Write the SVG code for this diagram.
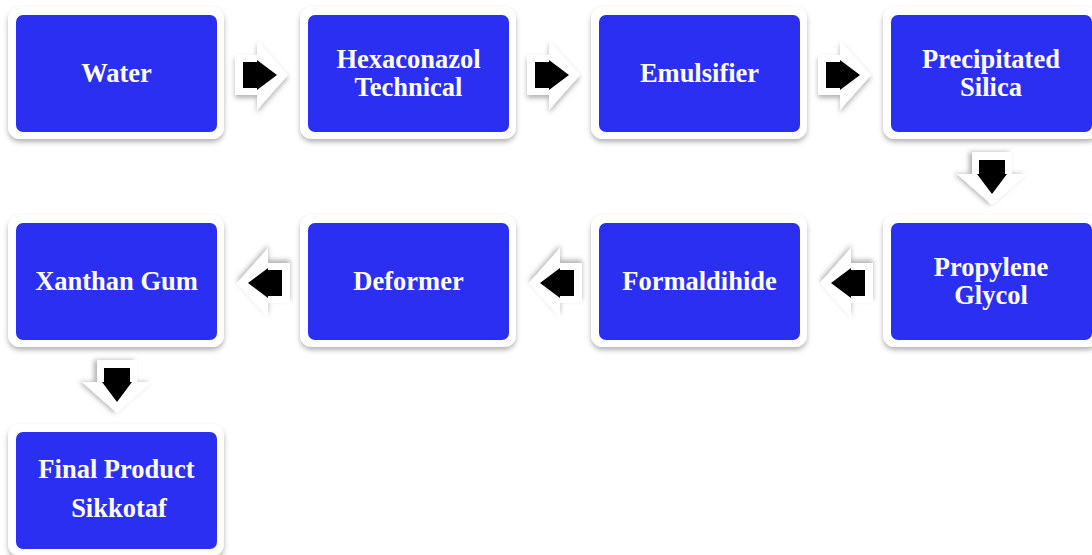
<svg xmlns="http://www.w3.org/2000/svg" width="1092" height="555" viewBox="0 0 1092 555">
<defs>
<style>
.frame{fill:#ffffff;filter:url(#sh)}
.box{fill:#2A2FF2}
.lbl{font-weight:700;font-size:26.5px;fill:#ffffff;text-anchor:middle}
.aw{fill:#ffffff;filter:url(#sh)}
.ab{fill:#000000}
</style>
<filter id="sh" x="-20%" y="-20%" width="140%" height="150%">
<feDropShadow dx="0" dy="3" stdDeviation="2.5" flood-color="#000" flood-opacity="0.3"/>
</filter>
<g id="arR">
<path class="aw" d="M0,-20 H22 V-35 L53,0 L22,35 V20 H0 Z"/>
<path class="ab" d="M8,-13 H22 V-15 L42,0 L22,15 V13 H8 Z"/>
</g>
</defs>
<rect width="1092" height="555" fill="#ffffff"/>
<g id="connectors">
<use href="#arR" transform="translate(235,75)"/>
<use href="#arR" transform="translate(527,75)"/>
<use href="#arR" transform="translate(818,75)"/>
<use href="#arR" transform="translate(992,152) rotate(90)"/>
<use href="#arR" transform="translate(873,283) rotate(180)"/>
<use href="#arR" transform="translate(582,283) rotate(180)"/>
<use href="#arR" transform="translate(290,283) rotate(180)"/>
<use href="#arR" transform="translate(117,360) rotate(90)"/>
</g>
<g font-family="Liberation Serif, serif">
<g id="n1"><rect class="frame" x="8" y="7" width="216" height="132" rx="12"/><rect class="box" x="16" y="15" width="201" height="117" rx="7"/><text class="lbl" x="116.5" y="82">Water</text></g>
<g id="n2"><rect class="frame" x="300" y="7" width="216" height="132" rx="12"/><rect class="box" x="308" y="15" width="201" height="117" rx="7"/><text class="lbl" x="408.5" y="68">Hexaconazol</text><text class="lbl" x="408.5" y="96">Technical</text></g>
<g id="n3"><rect class="frame" x="591" y="7" width="216" height="132" rx="12"/><rect class="box" x="599" y="15" width="201" height="117" rx="7"/><text class="lbl" x="699.5" y="82">Emulsifier</text></g>
<g id="n4"><rect class="frame" x="883" y="7" width="216" height="132" rx="12"/><rect class="box" x="891" y="15" width="201" height="117" rx="7"/><text class="lbl" x="991" y="68">Precipitated</text><text class="lbl" x="991" y="96">Silica</text></g>
<g id="n5"><rect class="frame" x="883" y="215" width="216" height="132" rx="12"/><rect class="box" x="891" y="223" width="201" height="117" rx="7"/><text class="lbl" x="991" y="276">Propylene</text><text class="lbl" x="991" y="304">Glycol</text></g>
<g id="n6"><rect class="frame" x="591" y="215" width="216" height="132" rx="12"/><rect class="box" x="599" y="223" width="201" height="117" rx="7"/><text class="lbl" x="699.5" y="290">Formaldihide</text></g>
<g id="n7"><rect class="frame" x="300" y="215" width="216" height="132" rx="12"/><rect class="box" x="308" y="223" width="201" height="117" rx="7"/><text class="lbl" x="408.5" y="290">Deformer</text></g>
<g id="n8"><rect class="frame" x="8" y="215" width="216" height="132" rx="12"/><rect class="box" x="16" y="223" width="201" height="117" rx="7"/><text class="lbl" x="116.5" y="290">Xanthan Gum</text></g>
<g id="n9"><rect class="frame" x="8" y="424" width="216" height="132" rx="12"/><rect class="box" x="16" y="432" width="201" height="117" rx="7"/><text class="lbl" x="116.5" y="478">Final Product</text><text class="lbl" x="119" y="517">Sikkotaf</text></g>
</g>
</svg>
